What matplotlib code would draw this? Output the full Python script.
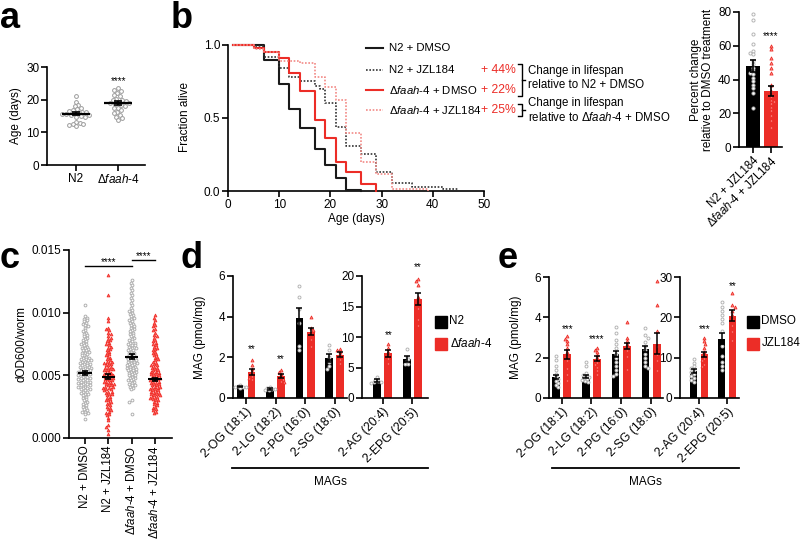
import numpy as np
import matplotlib
matplotlib.use('Agg')
import matplotlib.pyplot as plt
from matplotlib.lines import Line2D
from matplotlib.patches import Rectangle

plt.rcParams['font.family'] = ['Liberation Sans', 'DejaVu Sans']
plt.rcParams['mathtext.fontset'] = 'custom'
plt.rcParams['mathtext.rm'] = 'Liberation Sans'
plt.rcParams['mathtext.it'] = 'Liberation Sans:italic'
plt.rcParams['mathtext.bf'] = 'Liberation Sans:bold'

W, H = 800, 542
RED = '#ec2d27'
LRED = '#f28a86'
GRAYE = '#a8a8a8'
TICK = 8.5
LAB = 8.5
FAAH = r'$\mathit{\Delta faah}$-$\mathit{4}$'

# ---------------- data ----------------
# panel a: lifespan per experiment (days)
a_groups = ['N2', FAAH]
a_n2 = [21.0, 19.4, 18.4, 18.0, 17.4, 17.0, 16.8, 16.5, 16.3, 16.1, 15.9, 15.7, 15.6,
        15.5, 15.3, 15.2, 15.0, 14.8, 14.6, 13.2, 13.0, 12.6, 12.4, 12.1, 11.8]
a_faah = [23.5, 23.0, 22.6, 22.0, 21.5, 21.0, 20.3, 20.0, 19.8, 19.5, 19.3, 19.0, 18.9,
          18.7, 18.4, 18.1, 17.6, 17.3, 16.8, 16.3, 15.8, 15.3, 14.8, 14.3, 13.8]
a_mean = [15.7, 18.9]
a_sem = [0.45, 0.55]

# panel b: survival curves (day, fraction alive)
b_labels = ['N2 + DMSO', 'N2 + JZL184', FAAH + ' + DMSO', FAAH + ' + JZL184']
b_pct = ['', '+ 44%', '+ 22%', '+ 25%']
n2_dmso_t = [1, 7, 10, 12, 14, 17, 19, 21, 23, 26]
n2_dmso_s = [1.0, 0.90, 0.73, 0.565, 0.43, 0.285, 0.18, 0.09, 0.01, 0.0]
n2_jzl_t = [1, 5, 7, 10, 12, 14, 17, 18, 19, 21, 23, 26, 29, 32, 36, 42, 45]
n2_jzl_s = [1.0, 0.99, 0.92, 0.845, 0.78, 0.75, 0.72, 0.70, 0.60, 0.44, 0.31, 0.25,
            0.13, 0.055, 0.03, 0.012, 0.012]
faah_dmso_t = [1, 5, 7, 10, 12, 14, 17, 19, 21, 23, 26, 29]
faah_dmso_s = [1.0, 0.98, 0.95, 0.91, 0.805, 0.684, 0.485, 0.366, 0.20, 0.13, 0.05, 0.0]
faah_jzl_t = [1, 5, 7, 10, 14, 17, 19, 21, 23, 26, 29, 32, 39]
faah_jzl_s = [1.0, 0.97, 0.95, 0.89, 0.875, 0.78, 0.71, 0.62, 0.40, 0.20, 0.115, 0.015, 0.0]

# panel b right: percent change relative to DMSO
pc_groups = ['N2 + JZL184', FAAH + ' + JZL184']
pc_n2 = [79, 75, 67, 61, 57, 56, 55, 51, 49, 47, 45, 44, 43, 41, 39, 37, 35, 32, 23]
pc_faah = [60, 58, 53, 50, 47, 44, 37, 33, 30, 28, 27, 26, 24, 22, 19, 16, 12]
pc_mean = [48, 33]
pc_sem = [3.4, 3.0]

# panel c: dOD600/worm (values in units of 1e-4)
c_groups = ['N2 + DMSO', 'N2 + JZL184', FAAH + ' + DMSO', FAAH + ' + JZL184']
c_n2_dmso = [106, 97, 96, 95, 94, 93, 92, 91, 90, 89, 88, 86, 85, 84, 83, 82, 81, 80, 79, 78,
             77, 76, 75, 75, 74, 73, 72, 72, 71, 70, 70, 69, 68, 68, 67, 66, 66, 65, 64, 64,
             63, 63, 62, 62, 61, 61, 60, 60, 59, 59, 58, 58, 57, 57, 56, 56, 55, 55, 54, 54,
             53, 53, 52, 52, 51, 51, 50, 50, 49, 49, 48, 48, 47, 47, 46, 46, 45, 45, 44, 44,
             43, 43, 42, 42, 41, 41, 40, 40, 39, 39, 38, 37, 37, 36, 35, 35, 34, 33, 32, 31,
             30, 29, 28, 27, 26, 25, 24, 23, 22, 21, 21, 20, 19, 15]
c_n2_jzl = [130, 114, 96, 93, 88, 87, 86, 84, 83, 81, 80, 79, 78, 77, 76, 75, 74, 73, 72, 71,
            70, 69, 68, 67, 66, 65, 64, 63, 62, 61, 61, 60, 60, 59, 58, 58, 57, 56, 56, 55,
            55, 54, 54, 53, 52, 52, 51, 51, 50, 50, 49, 49, 48, 48, 47, 47, 46, 46, 45, 45,
            44, 44, 43, 43, 42, 42, 41, 41, 40, 40, 39, 39, 38, 37, 37, 36, 35, 35, 34, 33,
            32, 31, 30, 30, 29, 28, 27, 26, 25, 24, 23, 22, 21, 20, 19, 18, 16, 14, 10, 9, 6, 3]
c_faah_dmso = [126, 124, 122, 120, 118, 116, 114, 112, 110, 108, 106, 104, 102, 101, 100, 99,
               98, 97, 96, 95, 94, 93, 92, 91, 90, 89, 88, 87, 86, 85, 84, 83, 82, 81, 80, 79,
               78, 77, 76, 76, 75, 74, 74, 73, 72, 72, 71, 70, 70, 69, 68, 68, 67, 66, 66, 65,
               65, 64, 64, 63, 63, 62, 62, 61, 61, 60, 60, 59, 59, 58, 58, 57, 57, 56, 56, 55,
               55, 54, 54, 53, 53, 52, 52, 51, 50, 50, 49, 48, 48, 47, 46, 46, 45, 44, 43, 42,
               42, 41, 40, 39, 30, 29, 19]
c_faah_jzl = [98, 96, 94, 92, 90, 89, 87, 86, 84, 82, 81, 80, 78, 77, 76, 75, 74, 73, 72, 71,
              70, 69, 68, 67, 66, 65, 64, 63, 62, 61, 60, 59, 58, 58, 57, 56, 56, 55, 54, 54,
              53, 53, 52, 52, 51, 51, 50, 50, 49, 49, 48, 48, 47, 47, 46, 46, 45, 45, 44, 44,
              43, 43, 42, 42, 41, 41, 40, 40, 39, 39, 38, 38, 37, 37, 36, 36, 35, 35, 34, 34,
              33, 33, 32, 32, 31, 30, 30, 29, 28, 27, 26, 25, 24, 23, 22, 21, 20]
c_mean = [0.0052, 0.0049, 0.0065, 0.0047]
c_sem = [0.00015, 0.00018, 0.00018, 0.00012]

# panels d/e: MAG levels
mag_small = ['2-OG (18:1)', '2-LG (18:2)', '2-PG (16:0)', '2-SG (18:0)']
mag_big = ['2-AG (20:4)', '2-EPG (20:5)']

d_n2_mean = [0.56, 0.44, 3.92, 1.95, 2.84, 6.4]
d_n2_sem = [0.04, 0.03, 0.5, 0.2, 0.25, 0.5]
d_faah_mean = [1.30, 1.08, 3.26, 2.12, 7.3, 16.2]
d_faah_sem = [0.15, 0.1, 0.18, 0.12, 0.6, 1.0]
d_n2_pts = [[0.65, 0.6, 0.55, 0.52, 0.5, 0.55], [0.55, 0.48, 0.45, 0.42, 0.4, 0.38],
            [5.5, 4.95, 4.4, 3.7, 2.55, 2.35], [2.6, 2.35, 2.0, 1.75, 1.55, 1.45],
            [3.4, 3.0, 2.8, 2.6, 2.5, 2.7], [8.0, 6.8, 6.4, 6.0, 5.6, 5.6]]
d_faah_pts = [[1.85, 1.6, 1.45, 1.3, 1.1, 1.0, 0.95], [1.4, 1.3, 1.2, 1.05, 0.95, 0.85, 0.8],
              [4.0, 3.45, 3.35, 3.2, 2.9, 2.55], [2.4, 2.35, 2.25, 2.1, 1.9, 1.7],
              [8.8, 8.2, 7.5, 7.0, 6.5, 5.8], [19.5, 19.2, 18.5, 16.5, 13.0, 12.0, 14.7]]
d_stars = ['**', '**', '', '', '**', '**']
d_star_y = [2.4, 1.92, 0, 0, 10.3, 21.4]

e_dmso_mean = [1.03, 1.08, 2.18, 2.43, 6.7, 14.7]
e_dmso_sem = [0.1, 0.08, 0.15, 0.15, 0.5, 1.4]
e_jzl_mean = [2.17, 1.95, 2.57, 2.70, 10.8, 20.4]
e_jzl_sem = [0.22, 0.12, 0.15, 0.5, 0.7, 1.3]
e_dmso_pts = [[2.1, 1.9, 1.6, 1.4, 1.2, 1.05, 0.95, 0.85, 0.75, 0.65, 0.55],
              [1.8, 1.6, 1.25, 1.15, 1.1, 1.05, 1.0, 0.95, 0.9, 0.85, 0.8],
              [3.5, 3.2, 2.9, 2.7, 2.5, 2.2, 2.0, 1.8, 1.6, 1.4, 1.2, 1.1],
              [3.45, 3.1, 3.0, 2.8, 2.6, 2.4, 2.2, 2.0, 1.8, 1.6, 1.5],
              [9.6, 8.8, 8.0, 7.5, 7.0, 6.5, 6.0, 5.5, 5.0, 4.5, 4.0],
              [23.8, 22.5, 21.5, 20.5, 19.5, 18.5, 16.5, 13.0, 10.5, 9.0, 8.0, 7.0]]
e_jzl_pts = [[3.05, 2.95, 2.85, 2.7, 2.5, 2.3, 2.1, 1.9, 1.5, 1.2, 0.9],
             [2.5, 2.4, 2.3, 2.15, 2.0, 1.9, 1.8, 1.7, 1.55, 1.4, 1.2],
             [3.75, 3.0, 2.85, 2.7, 2.55, 2.4, 2.1, 1.45],
             [5.8, 4.6, 3.3, 2.6, 2.2, 1.9, 1.4],
             [15.0, 14.2, 13.5, 12.5, 11.5, 10.8, 10.0, 9.5, 8.5, 8.0],
             [26.0, 23.0, 22.5, 21.5, 20.5, 19.5, 18.0, 16.5, 14.5]]
e_stars = ['***', '****', '', '', '***', '**']
e_star_y = [3.4, 2.92, 0, 0, 17.0, 27.8]

# ---------------- helpers ----------------
fig = plt.figure(figsize=(W / 100, H / 100), dpi=100)


def add_ax(x0, y0, x1, y1):
    ax = fig.add_axes([x0 / W, 1 - y1 / H, (x1 - x0) / W, (y1 - y0) / H])
    for s in ['top', 'right']:
        ax.spines[s].set_visible(False)
    for s in ['left', 'bottom']:
        ax.spines[s].set_linewidth(1.2)
    ax.tick_params(direction='out', length=4, width=1.2, labelsize=TICK, pad=1.5)
    ax.patch.set_alpha(0)
    return ax


def ppu(ax):
    bb = ax.get_position()
    x0, x1 = ax.get_xlim()
    y0, y1 = ax.get_ylim()
    return bb.width * W / (x1 - x0), bb.height * H / (y1 - y0)


def swarm(vals, py, d):
    ys = np.asarray(vals, float) * py
    order = np.argsort(-ys, kind='stable')
    xs = np.zeros(len(ys))
    placed = []
    for k, i in enumerate(order):
        y = ys[i]
        cands = [0.0]
        for (px_, py_) in placed:
            dy = abs(py_ - y)
            if dy < d:
                dx = np.sqrt(d * d - dy * dy)
                cands += [px_ + dx, px_ - dx]
        sign = 1 if k % 2 == 0 else -1
        cands.sort(key=lambda c: (round(abs(c), 6), -sign * c))
        for c in cands:
            if all((c - a) ** 2 + (y - b) ** 2 >= d * d - 1e-6 for a, b in placed):
                xs[i] = c
                placed.append((c, y))
                break
    return xs


def ftext(x, y, s, **kw):
    fig.text(x / W, 1 - y / H, s, **kw)


def fline(xs, ys, **kw):
    fig.add_artist(Line2D([x / W for x in xs], [1 - y / H for y in ys],
                          transform=fig.transFigure, **kw))


def circ_pts(ax, x, vals, d=3.6, s=6, ec=GRAYE):
    px, py = ppu(ax)
    off = swarm(vals, py, d) / px
    ax.scatter(x + off, vals, s=s, marker='o', facecolor='white', edgecolor=ec,
               linewidths=0.7, zorder=3, clip_on=False)


def tri_pts(ax, x, vals, d=3.6, s=6, fc='#ff9a96', ec=RED):
    px, py = ppu(ax)
    off = swarm(vals, py, d) / px
    ax.scatter(x + off, vals, s=s, marker='^', facecolor=fc, edgecolor=ec,
               linewidths=0.6, zorder=3, clip_on=False)


# ---------------- panel labels ----------------
for lab, x, y in [('a', 0, 28), ('b', 171, 28), ('c', 0, 268), ('d', 181, 268), ('e', 498, 268)]:
    ftext(x, y, lab, fontsize=26, fontweight='bold', va='baseline', ha='left')

# ---------------- panel a ----------------
ax = add_ax(47, 67, 145, 165)
ax.set_xlim(-0.69, 1.64)
ax.set_ylim(0, 30)
ax.set_yticks([0, 10, 20, 30])
ax.set_xticks([0, 1])
ax.set_xticklabels(a_groups)
ax.set_ylabel('Age (days)', fontsize=LAB, labelpad=3)
for i, vals in enumerate([a_n2, a_faah]):
    circ_pts(ax, i, vals, d=4.0, s=7.5, ec='#9c9c9c')
    ax.hlines(a_mean[i], i - 0.33, i + 0.33, color='black', lw=1.6, zorder=4)
    ax.errorbar(i, a_mean[i], yerr=a_sem[i], fmt='none', ecolor='black', capsize=3,
                elinewidth=1.2, capthick=1.2, zorder=5)
ax.text(1, 25.8, '****', ha='center', va='center', fontsize=7)

# ---------------- panel b survival ----------------
ax = add_ax(228, 42, 484, 191)
ax.set_xlim(0, 50)
ax.set_ylim(0, 1.0205)
ax.spines['left'].set_bounds(0, 1)
ax.set_xticks([0, 10, 20, 30, 40, 50])
ax.set_yticks([0.0, 0.5, 1.0])
ax.set_yticklabels(['0.0', '0.5', '1.0'])
ax.set_xlabel('Age (days)', fontsize=LAB, labelpad=2)
ax.set_ylabel('Fraction alive', fontsize=LAB, labelpad=9)
styles = [dict(color='#1a1a1a', lw=1.5, ls='-'),
          dict(color='#333333', lw=1.2, ls=(0, (1, 1))),
          dict(color=RED, lw=1.5, ls='-'),
          dict(color=LRED, lw=1.2, ls=(0, (1, 1)))]
curves = [(n2_dmso_t, n2_dmso_s), (n2_jzl_t, n2_jzl_s),
          (faah_dmso_t, faah_dmso_s), (faah_jzl_t, faah_jzl_s)]
for (t, s), st in zip(curves, styles):
    ax.step(t, s, where='post', clip_on=False, zorder=3, **st)

rows = [48, 70, 90, 110]
for yv, lab, pct, st in zip(rows, b_labels, b_pct, styles):
    fline([366, 383], [yv, yv], **st)
    ftext(389, yv, lab, fontsize=8.2, va='center', ha='left')
    if pct:
        ftext(516, yv, pct, fontsize=8.8, va='center', ha='right', color=RED)
# brackets
fline([518, 522, 522, 518], [64, 64, 96, 96], color='black', lw=1.0)
fline([522, 525], [80, 80], color='black', lw=1.0)
fline([518, 522, 522, 518], [104, 104, 116, 116], color='black', lw=1.0)
fline([522, 525], [110, 110], color='black', lw=1.0)
ftext(528, 71, 'Change in lifespan', fontsize=8.3, va='center', ha='left')
ftext(528, 85, 'relative to N2 + DMSO', fontsize=8.3, va='center', ha='left')
ftext(528, 103, 'Change in lifespan', fontsize=8.3, va='center', ha='left')
ftext(528, 118, 'relative to ' + FAAH + ' + DMSO', fontsize=8.3, va='center', ha='left')

# ---------------- panel b right ----------------
ax = add_ax(739, 12, 782, 147)
ax.set_xlim(-0.78, 1.61)
ax.set_ylim(0, 80)
ax.set_yticks([0, 20, 40, 60, 80])
ax.set_xticks([0, 1])
ax.set_xticklabels(pc_groups, rotation=45, ha='right', rotation_mode='anchor', fontsize=8.3)
ax.set_ylabel('Percent change\nrelative to DMSO treatment', fontsize=LAB, labelpad=3,
              linespacing=1.0)
ax.bar([0, 1], pc_mean, width=0.78, color=['black', RED], zorder=2)
circ_pts(ax, 0, pc_n2, d=3.2, s=5, ec='#b5b5b5')
tri_pts(ax, 1, pc_faah, d=3.2, s=5)
ax.errorbar([0, 1], pc_mean, yerr=pc_sem, fmt='none', ecolor='black', capsize=2.5,
            elinewidth=1.2, capthick=1.2, zorder=5)
ax.text(1, 66, '****', ha='center', va='center', fontsize=7)

# ---------------- panel c ----------------
ax = add_ax(69, 250, 172, 438)
ax.set_xlim(-0.69, 3.73)
ax.set_ylim(0, 0.015)
ax.set_yticks([0, 0.005, 0.010, 0.015])
ax.set_yticklabels(['0.000', '0.005', '0.010', '0.015'])
ax.set_xticks([0, 1, 2, 3])
ax.set_xticklabels(c_groups, rotation=90, fontsize=8.3)
ax.set_ylabel('dOD600/worm', fontsize=LAB, labelpad=3)
for i, vals in enumerate([c_n2_dmso, c_n2_jzl, c_faah_dmso, c_faah_jzl]):
    v = np.asarray(vals) * 1e-4
    if i % 2 == 0:
        circ_pts(ax, i, v, d=2.6, s=4, ec='#b0b0b0')
    else:
        tri_pts(ax, i, v, d=2.6, s=4, fc='#ff6e6a', ec='#f0302a')
    ax.hlines(c_mean[i], i - 0.29, i + 0.29, color='black', lw=1.5, zorder=4)
    ax.errorbar(i, c_mean[i], yerr=c_sem[i], fmt='none', ecolor='black', capsize=2.5,
                elinewidth=1.2, capthick=1.2, zorder=5)
ax.plot([0, 2], [0.0137, 0.0137], color='black', lw=1.0, clip_on=False)
ax.text(1, 0.0140, '****', ha='center', va='center', fontsize=7)
ax.plot([2, 3], [0.01418, 0.01418], color='black', lw=1.0, clip_on=False)
ax.text(2.5, 0.0145, '****', ha='center', va='center', fontsize=7)


# ---------------- panels d / e ----------------
def mag_panel(rect1, rect2, xl1, xl2, yl2, yt2, m0, s0, m1, s1, p0, p1, stars, stary,
              off, bw):
    a1 = add_ax(*rect1)
    a2 = add_ax(*rect2)
    a1.set_xlim(*xl1)
    a1.set_ylim(0, 6)
    a1.set_yticks([0, 2, 4, 6])
    a2.set_xlim(*xl2)
    a2.set_ylim(0, yl2)
    a2.set_yticks(yt2)
    a1.set_xticks(range(4))
    a1.set_xticklabels(mag_small, rotation=45, ha='right', rotation_mode='anchor', fontsize=8.8)
    a2.set_xticks(range(2))
    a2.set_xticklabels(mag_big, rotation=45, ha='right', rotation_mode='anchor', fontsize=8.8)
    a1.set_ylabel('MAG (pmol/mg)', fontsize=LAB, labelpad=9)
    for k in range(6):
        ax_ = a1 if k < 4 else a2
        g = k if k < 4 else k - 4
        ax_.bar(g - off, m0[k], width=bw, color='black', zorder=2)
        ax_.bar(g + off, m1[k], width=bw, color=RED, zorder=2)
        circ_pts(ax_, g - off, p0[k], d=3.0, s=4.5, ec='#b5b5b5')
        tri_pts(ax_, g + off, p1[k], d=3.0, s=4.5)
        ax_.errorbar([g - off, g + off], [m0[k], m1[k]], yerr=[s0[k], s1[k]], fmt='none',
                     ecolor='black', capsize=2.2, elinewidth=1.1, capthick=1.1, zorder=5)
        if stars[k]:
            ax_.text(g + off, stary[k], stars[k], ha='center', va='center', fontsize=7,
                     clip_on=False)
    return a1, a2


mag_panel((233, 276, 347, 398), (362, 276, 428, 398), (-0.44, 3.42), (-0.70, 1.53),
          20, [0, 5, 10, 15, 20], d_n2_mean, d_n2_sem, d_faah_mean, d_faah_sem,
          d_n2_pts, d_faah_pts, d_stars, d_star_y, 0.19, 0.26)
mag_panel((549, 277, 663, 398), (680, 277, 739, 398), (-0.42, 3.40), (-0.68, 1.43),
          30, [0, 10, 20, 30], e_dmso_mean, e_dmso_sem, e_jzl_mean, e_jzl_sem,
          e_dmso_pts, e_jzl_pts, e_stars, e_star_y, 0.19, 0.26)

# legends
for (x0, labs) in [(435, ['N2', FAAH]), (747, ['DMSO', 'JZL184'])]:
    for j, (lab, col) in enumerate(zip(labs, ['black', RED])):
        yc = 321.5 + 22 * j
        fig.add_artist(Rectangle((x0 / W, 1 - (yc + 6) / H), 12 / W, 12 / H, color=col,
                                 transform=fig.transFigure))
        ftext(x0 + 14.5, yc, lab, fontsize=8.4, va='center', ha='left')

# MAGs lines
fline([232, 428], [468, 468], color='black', lw=1.3)
ftext(330, 482, 'MAGs', fontsize=LAB, ha='center', va='center')
fline([552, 739], [468, 468], color='black', lw=1.3)
ftext(645, 482, 'MAGs', fontsize=LAB, ha='center', va='center')

fig.savefig('out.png', dpi=100)
